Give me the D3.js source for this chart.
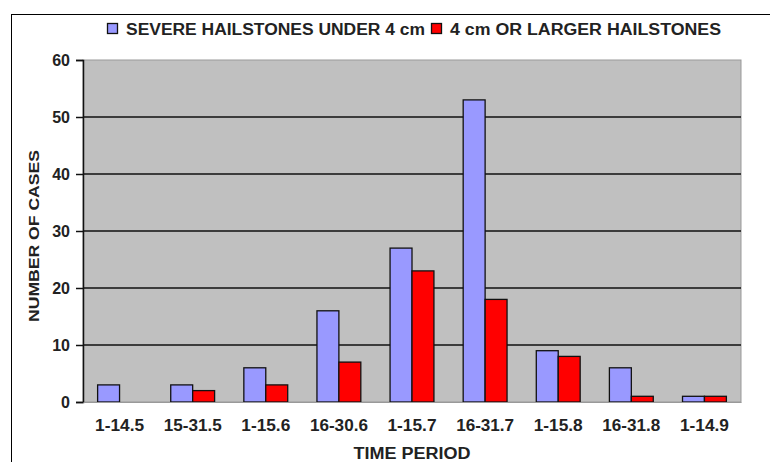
<!DOCTYPE html>
<html>
<head>
<meta charset="utf-8">
<script src="https://cdn.jsdelivr.net/npm/d3@7"></script>
<style>
  body { margin: 0; background: #fff; }
  svg text { font-family: "Liberation Sans", Arial, sans-serif; font-weight: bold; fill: #222; }
</style>
</head>
<body>
<div id="chart"></div>
<script>
// data
var periods = ["1-14.5", "15-31.5", "1-15.6", "16-30.6", "1-15.7", "16-31.7", "1-15.8", "16-31.8", "1-14.9"];
var under4 = [3, 3, 6, 16, 27, 53, 9, 6, 1];
var over4 = [0, 2, 3, 7, 23, 18, 8, 1, 1];
var seriesNames = ["SEVERE HAILSTONES UNDER 4 cm", "4 cm OR LARGER HAILSTONES"];
var seriesColors = ["#9999ff", "#ff0000"];
var yTicks = [0, 10, 20, 30, 40, 50, 60];

var W = 770, H = 462;
var margin = {top: 60, left: 83, right: 29, bottom: 60};
var width = W - margin.left - margin.right;
var height = H - margin.top - margin.bottom;

var svg = d3.select("#chart").append("svg")
    .attr("width", W)
    .attr("height", H);

// outer frame
svg.append("rect")
    .attr("x", 11.5).attr("y", 14.5)
    .attr("width", W).attr("height", H)
    .attr("fill", "none")
    .attr("stroke", "#000")
    .attr("stroke-width", 1);

var g = svg.append("g")
    .attr("transform", "translate(" + margin.left + "," + margin.top + ")");

var x0 = d3.scaleBand()
    .domain(periods)
    .range([0, width])
    .paddingInner(0.4)
    .paddingOuter(0.2);
var x1 = d3.scaleBand()
    .domain([0, 1])
    .range([0, x0.bandwidth()]);
var y = d3.scaleLinear()
    .domain([0, 60])
    .range([height, 0]);

// plot area
g.append("rect")
    .attr("width", width).attr("height", height)
    .attr("fill", "#c0c0c0")
    .attr("stroke", "#999")
    .attr("stroke-width", 1);

// gridlines
g.selectAll(".grid")
    .data(yTicks.filter(function(d) { return d > 0 && d < 60; }))
    .enter().append("line")
    .attr("x1", 0).attr("x2", width)
    .attr("y1", function(d) { return y(d); })
    .attr("y2", function(d) { return y(d); })
    .attr("stroke", "#111")
    .attr("stroke-width", 1.5);

// bars
var rows = periods.map(function(p, i) { return {p: p, v: [under4[i], over4[i]]}; });
var grp = g.selectAll(".grp")
    .data(rows)
    .enter().append("g")
    .attr("transform", function(d) { return "translate(" + x0(d.p) + ",0)"; });
grp.selectAll("rect")
    .data(function(d) { return d.v.map(function(v, k) { return {k: k, v: v}; }); })
    .enter().filter(function(d) { return d.v > 0; }).append("rect")
    .attr("x", function(d) { return x1(d.k); })
    .attr("y", function(d) { return y(d.v); })
    .attr("width", x1.bandwidth())
    .attr("height", function(d) { return height - y(d.v); })
    .attr("fill", function(d) { return seriesColors[d.k]; })
    .attr("stroke", "#111")
    .attr("stroke-width", 1.3);

// y axis
var yAxis = g.append("g")
    .call(d3.axisLeft(y).tickValues(yTicks).tickSize(7).tickPadding(6));
yAxis.select(".domain").attr("stroke", "#111").attr("stroke-width", 1.5);
yAxis.selectAll(".tick line").attr("stroke", "#111").attr("stroke-width", 1.5);
yAxis.selectAll("text").style("font-size", "16px").attr("fill", "#222");

// x axis labels
var xAxis = g.append("g")
    .attr("transform", "translate(0," + height + ")")
    .call(d3.axisBottom(x0).tickSize(0).tickPadding(18));
xAxis.select(".domain").attr("stroke", "#999");
xAxis.selectAll("text").style("font-size", "16px").attr("fill", "#222")
    .attr("textLength", 49).attr("lengthAdjust", "spacingAndGlyphs")
    .filter(function(d) { return d.length > 6; })
    .attr("textLength", 58);

// axis titles
svg.append("text")
    .attr("x", margin.left + width / 2)
    .attr("y", 459)
    .attr("text-anchor", "middle")
    .attr("textLength", 117)
    .attr("lengthAdjust", "spacingAndGlyphs")
    .style("font-size", "16px")
    .text("TIME PERIOD");

svg.append("text")
    .attr("transform", "translate(39," + (margin.top + height / 2 + 5) + ")rotate(-90)")
    .attr("text-anchor", "middle")
    .attr("textLength", 172)
    .attr("lengthAdjust", "spacingAndGlyphs")
    .style("font-size", "15px")
    .text("NUMBER OF CASES");

// legend
var legendWidths = [299, 271];
var legend = svg.append("g").attr("transform", "translate(107,23)");
var lx = 0;
seriesNames.forEach(function(name, i) {
    legend.append("rect")
        .attr("x", lx + 0.5).attr("y", 0.5)
        .attr("width", 10).attr("height", 10)
        .attr("fill", seriesColors[i])
        .attr("stroke", "#111")
        .attr("stroke-width", 1.3);
    legend.append("text")
        .attr("x", lx + 19)
        .attr("y", 12)
        .attr("textLength", legendWidths[i])
        .attr("lengthAdjust", "spacingAndGlyphs")
        .style("font-size", "16px")
        .text(name);
    lx += 19 + legendWidths[i] + 6;
});
</script>
</body>
</html>
